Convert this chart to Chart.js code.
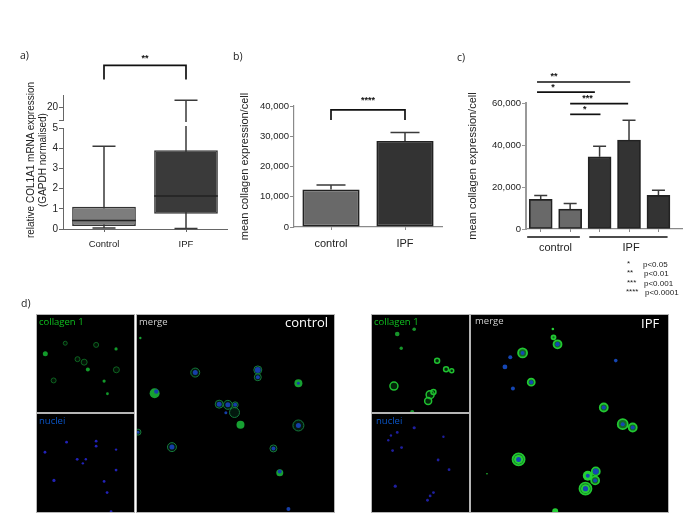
<!DOCTYPE html>
<html>
<head>
<meta charset="utf-8">
<script src="https://cdn.jsdelivr.net/npm/chart.js@4/dist/chart.umd.min.js"></script>
<style>
  body { margin: 0; background: #fff; width: 700px; height: 525px; overflow: hidden; position: relative; filter: blur(0.35px); }
  canvas { position: absolute; }
  .t { position: absolute; white-space: nowrap; transform: translateY(-50%); font-family: "Liberation Sans", sans-serif; color: #222; }
  .tag { font-family: "Open Sans", sans-serif; font-size: 10.5px; }
  .leg { font-size: 8px; }
  .photo { position: absolute; background: #000; outline: 1px solid #b5b5b5; overflow: hidden; }
  .photo canvas { filter: blur(0.5px); }
  .ylab { position: absolute; left: 36px; top: 160px; width: 0; height: 0; }
  .ylab div { position: absolute; transform: translate(-50%, -50%) rotate(-90deg); white-space: nowrap; text-align: center; font: 10px/11.5px "Liberation Sans", sans-serif; color: #222; }
</style>
</head>
<body>
<span class="t tag" style="left:20px;top:55px">a)</span>
<span class="t tag" style="left:233px;top:56px">b)</span>
<span class="t tag" style="left:457px;top:57px">c)</span>
<span class="t tag" style="left:21px;top:303px">d)</span>
<div class="ylab"><div>relative COL1A1 mRNA expression<br>(GAPDH normalised)</div></div>

<span class="t leg" style="left:627px;top:263px">*</span><span class="t leg" style="left:643px;top:264px">p&lt;0.05</span>
<span class="t leg" style="left:627px;top:272px">**</span><span class="t leg" style="left:644px;top:273px">p&lt;0.01</span>
<span class="t leg" style="left:627px;top:282px">***</span><span class="t leg" style="left:644px;top:283px">p&lt;0.001</span>
<span class="t leg" style="left:626px;top:291px">****</span><span class="t leg" style="left:645px;top:292px">p&lt;0.0001</span>

<script>
// panel a, box plot
const boxLabels = ["Control", "IPF"];
const boxLow = [0.05, 0.03];
const boxQ1 = [0.15, 0.75];
const boxMedian = [0.42, 1.63];
const boxQ3 = [1.1, 3.9];
const boxHigh = [4.1, 23.5];
const upperTicks = [14, 20];

// panel b
const barLabels = ["control", "IPF"];
const barMeans = [12400, 28400];
const barTops = [13900, 31200];

// panel c
const groupPositions = [0, 1, 2, 3, 4];
const groupMeans = [14100, 9500, 34400, 42400, 16000];
const groupTops = [16000, 12200, 39400, 51800, 18400];

const ctrlCollagenRings = [[122, 133, 2.5], [142, 142, 3], [239, 165, 3], [50, 197, 2.5], [85, 85, 2], [178, 90, 2.5]];
const ctrlCollagenBlobs = [[25, 117, 2.5], [153, 164, 2], [238, 102, 1.6], [202, 199, 1.6], [212, 237, 1.4]];
const ctrlNuclei = [[24, 114, 1.4], [89, 84, 1.4], [178, 81, 1.4], [178, 96, 1.4], [238, 106, 1.2], [121, 135, 1.4], [138, 147, 1.2], [147, 135, 1.2], [238, 167, 1.4], [51, 198, 1.6], [202, 201, 1.4], [211, 234, 1.4], [223, 291, 1.4]];
const ctrlMergeRings = [[175, 173, 4.5], [363, 165, 4], [363, 187, 3.5], [247, 268, 4], [273, 270, 4.5], [295, 270, 3], [293, 293, 5], [485, 332, 5.5], [3, 352, 3], [105, 397, 4.5], [410, 401, 3.5]];
const ctrlMergeBlobs = [[485, 205, 4], [53, 235, 5], [311, 330, 4], [429, 474, 3.5], [10, 69, 1.2]];
const ctrlMergeNuclei = [[175, 173, 2.5], [363, 165, 3], [363, 187, 2], [485, 205, 1.5], [58, 230, 2.2], [247, 268, 2.5], [273, 270, 2.5], [295, 270, 2], [267, 294, 1.5], [485, 332, 2.5], [3, 352, 1.5], [105, 397, 2.5], [410, 401, 2], [429, 470, 2], [455, 583, 2]];

const ipfCollagenRings = [[196, 138, 2.5], [223, 163, 2.5], [240, 168, 2], [66, 214, 4], [175, 240, 4], [185, 232, 2.5], [169, 259, 3.5]];
const ipfCollagenBlobs = [[76, 57, 2.3], [127, 43, 1.8], [88, 100, 1.7], [121, 292, 2]];
const ipfNuclei = [[76, 55, 1.4], [57, 64, 1.2], [49, 78, 1.2], [62, 109, 1.4], [89, 100, 1.4], [127, 41, 1.6], [215, 68, 1.2], [199, 137, 1.4], [232, 166, 1.4], [70, 215, 1.6], [185, 234, 1.4], [175, 244, 1.4], [167, 257, 1.4]];
const ipfMergeRings = [[260, 88, 4], [155, 114, 4.5], [181, 202, 3.5], [399, 278, 4], [456, 328, 5], [486, 338, 4], [143, 434, 6], [375, 470, 4], [373, 497, 4], [344, 522, 6], [248, 67, 2]];
const ipfMergeBlobs = [[351, 483, 5], [143, 434, 4.5], [344, 522, 4.5], [253, 590, 3], [246, 42, 1.3], [48, 477, 0.8]];
const ipfMergeNuclei = [[260, 88, 2.2], [155, 114, 2], [118, 127, 2], [102, 156, 2.4], [181, 202, 2], [126, 221, 2], [435, 137, 1.8], [399, 278, 2], [456, 328, 2], [486, 338, 2], [143, 434, 2.5], [351, 483, 2], [375, 470, 3], [373, 497, 2], [344, 522, 2.6]];

Chart.defaults.font.family = '"Liberation Sans", sans-serif';
Chart.defaults.color = "#222";
Chart.defaults.animation = false;
Chart.defaults.responsive = false;
Chart.defaults.plugins.legend.display = false;
Chart.defaults.plugins.tooltip.enabled = false;

function addCanvas(left, top, width, height, parent) {
  const canvas = document.createElement("canvas");
  canvas.width = width;
  canvas.height = height;
  canvas.style.left = left + "px";
  canvas.style.top = top + "px";
  (parent || document.body).appendChild(canvas);
  return canvas;
}

// whiskers go under the bars, medians over them
function statsPlugin(stats, capWidth, medians) {
  return {
    id: "stats",
    beforeDatasetsDraw(chart) {
      const { ctx, chartArea, scales } = chart;
      ctx.save();
      ctx.beginPath();
      ctx.rect(chartArea.left, chartArea.top - 2, chartArea.width, chartArea.height + 4);
      ctx.clip();
      ctx.strokeStyle = "#3a3a3a";
      ctx.lineWidth = 1.5;
      const bars = chart.getDatasetMeta(0).data;
      stats.forEach((s, i) => {
        const px = bars[i].x;
        const yHigh = scales.y.getPixelForValue(s.high);
        const yLow = scales.y.getPixelForValue(s.low);
        ctx.beginPath();
        ctx.moveTo(px, yLow);
        ctx.lineTo(px, yHigh);
        ctx.moveTo(px - capWidth / 2, yHigh);
        ctx.lineTo(px + capWidth / 2, yHigh);
        if (s.lowCap) {
          ctx.moveTo(px - capWidth / 2, yLow);
          ctx.lineTo(px + capWidth / 2, yLow);
        }
        ctx.stroke();
      });
      ctx.restore();
    },
    afterDatasetsDraw(chart) {
      if (!medians) return;
      const { ctx, chartArea, scales } = chart;
      ctx.save();
      ctx.beginPath();
      ctx.rect(chartArea.left, chartArea.top, chartArea.width, chartArea.height);
      ctx.clip();
      ctx.strokeStyle = "#222";
      ctx.lineWidth = 1.5;
      chart.getDatasetMeta(0).data.forEach((bar, i) => {
        const y = scales.y.getPixelForValue(medians[i]);
        ctx.beginPath();
        ctx.moveTo(bar.x - bar.width / 2, y);
        ctx.lineTo(bar.x + bar.width / 2, y);
        ctx.stroke();
      });
      ctx.restore();
    },
  };
}

// brackets, significance lines and their stars, given in axis values
function notesPlugin(lines, labels) {
  return {
    id: "notes",
    afterDraw(chart) {
      const { ctx, scales } = chart;
      ctx.save();
      ctx.strokeStyle = "#111";
      ctx.lineWidth = 1.7;
      lines.forEach((line) => {
        ctx.beginPath();
        line.forEach(([x, y], i) => {
          const px = scales.x.getPixelForValue(x);
          const py = scales.y.getPixelForValue(y);
          if (i === 0) ctx.moveTo(px, py);
          else ctx.lineTo(px, py);
        });
        ctx.stroke();
      });
      ctx.textAlign = "center";
      ctx.textBaseline = "middle";
      labels.forEach(({ text, x, y, font }) => {
        ctx.font = font || 'bold 9px "Liberation Sans"';
        ctx.fillStyle = font ? "#222" : "#111";
        ctx.fillText(text, scales.x.getPixelForValue(x), scales.y.getPixelForValue(y));
      });
      ctx.restore();
    },
  };
}

function yAxis(width, axisColor, axisWidth, extra) {
  return Object.assign({
    afterFit(scale) { scale.width = width; },
    border: { color: axisColor, width: axisWidth },
    grid: { display: true, drawOnChartArea: false, color: axisColor, tickLength: 4 },
    ticks: { font: { size: 9.5 }, padding: 1, color: "#222" },
  }, extra);
}

function xAxis(height, axisColor, axisWidth, extra) {
  return Object.assign({
    offset: true,
    afterFit(scale) { scale.height = height; },
    border: { color: axisColor, width: axisWidth },
    grid: { display: true, offset: false, drawOnChartArea: false, color: axisColor, tickLength: 3 },
    ticks: { font: { size: 11 }, padding: 7, color: "#222" },
  }, extra);
}

function boxDataset() {
  return {
    data: boxQ1.map((q, i) => [q, boxQ3[i]]),
    backgroundColor: ["#7d7d7d", "#3a3a3a"],
    borderColor: "#333",
    borderWidth: 1.5,
    borderSkipped: false,
    barPercentage: 0.777,
    categoryPercentage: 1,
  };
}

const boxStats = boxLow.map((low, i) => ({ low, high: boxHigh[i], lowCap: true }));

// panel a, the part of the axis above the break
new Chart(addCanvas(10, 50, 225, 78), {
  type: "bar",
  data: { labels: boxLabels, datasets: [boxDataset()] },
  options: {
    layout: { padding: { top: 45, right: 8, bottom: 8 } },
    scales: {
      x: { display: false, offset: true },
      y: yAxis(53, "#666", 1, {
        min: 14,
        max: 26,
        afterBuildTicks(scale) { scale.ticks = upperTicks.map((value) => ({ value })); },
        ticks: { font: { size: 10 }, padding: 1, color: "#222", callback: (v) => (v === 20 ? "20" : "") },
      }),
    },
  },
  plugins: [
    statsPlugin(boxStats, 23),
    notesPlugin(
      [[[0, 33.4], [0, 40.2], [1, 40.2], [1, 33.4]]],
      [{ text: "**", x: 0.5, y: 43.7 }]
    ),
  ],
});

// panel a, below the break
new Chart(addCanvas(10, 118, 225, 140), {
  type: "bar",
  data: { labels: boxLabels, datasets: [boxDataset()] },
  options: {
    layout: { padding: { top: 10, right: 8 } },
    scales: {
      x: xAxis(29, "#666", 1, { ticks: { font: { size: 9.5 }, padding: 7, color: "#222" } }),
      y: yAxis(53, "#666", 1, {
        min: 0,
        max: 5,
        ticks: { font: { size: 10 }, padding: 1, color: "#222", stepSize: 1 },
      }),
    },
  },
  plugins: [statsPlugin(boxStats, 23, boxMedian)],
});

// panel b
new Chart(addCanvas(228, 90, 220, 175), {
  type: "bar",
  data: {
    labels: barLabels,
    datasets: [{
      data: barMeans,
      backgroundColor: ["#696969", "#333333"],
      borderColor: "#222",
      borderWidth: 1.7,
      borderSkipped: false,
      barPercentage: 0.773,
      categoryPercentage: 1,
    }],
  },
  options: {
    layout: { padding: { top: 16, right: 6 } },
    scales: {
      x: xAxis(38, "#8a8a8a", 1.2),
      y: yAxis(66, "#8a8a8a", 1.2, {
        min: 0,
        max: 40000,
        title: { display: true, text: "mean collagen expression/cell", font: { size: 11 }, color: "#222", padding: { top: 10 } },
        ticks: { font: { size: 9.5 }, padding: 1, color: "#222", stepSize: 10000, callback: (v) => v.toLocaleString("en-US") },
      }),
    },
  },
  plugins: [
    statsPlugin(barMeans.map((low, i) => ({ low, high: barTops[i] })), 29),
    notesPlugin(
      [[[0, 35400], [0, 38700], [1, 38700], [1, 35400]]],
      [{ text: "****", x: 0.5, y: 41800 }]
    ),
  ],
});

// panel c
new Chart(addCanvas(452, 65, 238, 235), {
  type: "bar",
  data: {
    datasets: [{
      data: groupPositions.map((x, i) => ({ x, y: groupMeans[i] })),
      backgroundColor: ["#696969", "#696969", "#333333", "#333333", "#333333"],
      borderColor: "#222",
      borderWidth: 1.7,
      borderSkipped: false,
      barThickness: 23,
    }],
  },
  options: {
    layout: { padding: { top: 38, right: 8 } },
    scales: {
      x: xAxis(71, "#8a8a8a", 1.2, {
        type: "linear",
        offset: false,
        min: -0.5,
        max: 4.8,
        afterBuildTicks(scale) { scale.ticks = groupPositions.map((value) => ({ value })); },
        ticks: { display: false },
      }),
      y: yAxis(74, "#999", 2, {
        min: 0,
        max: 60000,
        title: { display: true, text: "mean collagen expression/cell", font: { size: 11 }, color: "#222", padding: { top: 14 } },
        ticks: { font: { size: 9.5 }, padding: 1, color: "#222", stepSize: 20000, callback: (v) => v.toLocaleString("en-US") },
      }),
    },
  },
  plugins: [
    statsPlugin(groupMeans.map((low, i) => ({ low, high: groupTops[i] })), 13),
    notesPlugin(
      [
        [[-0.125, 70000], [3.04, 70000]],
        [[-0.125, 65200], [1.84, 65200]],
        [[1, 59700], [2.97, 59700]],
        [[1, 54600], [2.03, 54600]],
        [[-0.46, -3800], [1.33, -3800]],
        [[1.65, -3800], [4.31, -3800]],
      ],
      [
        { text: "**", x: 0.45, y: 72800 },
        { text: "*", x: 0.42, y: 67600 },
        { text: "***", x: 1.59, y: 62200 },
        { text: "*", x: 1.5, y: 57100 },
        { text: "control", x: 0.5, y: -9000, font: '11px "Liberation Sans"' },
        { text: "IPF", x: 3.07, y: -9000, font: '11px "Liberation Sans"' },
      ]
    ),
  ],
});

// panel d, micrographs drawn as bubbles on black
function toBubbles(list) {
  return list.map(([x, y, r]) => ({ x, y, r }));
}

function photo(left, top, width, height, span, marks, look, captions) {
  const box = document.createElement("div");
  box.className = "photo";
  box.style.cssText = `left:${left}px;top:${top}px;width:${width}px;height:${height}px`;
  document.body.appendChild(box);
  new Chart(addCanvas(0, 0, width, height, box), {
    type: "bubble",
    data: {
      datasets: [
        { data: toBubbles(marks.nuclei), backgroundColor: look.blue, borderWidth: 0, order: 1 },
        { data: toBubbles(marks.blobs), backgroundColor: look.blob, borderWidth: 0, order: 2 },
        { data: toBubbles(marks.rings), backgroundColor: look.fill, borderColor: look.ring, borderWidth: look.ringWidth, order: 3 },
      ],
    },
    options: {
      layout: { autoPadding: false },
      scales: {
        x: { display: false, min: 0, max: span },
        y: { display: false, min: 0, max: span, reverse: true },
      },
    },
  });
  captions.forEach(([text, color, x, y, size]) => {
    const label = document.createElement("span");
    label.className = "t";
    label.textContent = text;
    label.style.cssText = `left:${x}px;top:${y}px;color:${color};font-size:${size}px;font-family:"Open Sans",sans-serif`;
    box.appendChild(label);
  });
}

const ctrlSmall = { blue: "#2222b8", blob: "#129a2a", ring: "#0f6c24", fill: "rgba(10,70,25,0.25)", ringWidth: 0.9 };
const ctrlLarge = { blue: "#163ea8", blob: "#17a032", ring: "#14793a", fill: "rgba(8,70,40,0.35)", ringWidth: 1 };
const ipfSmall = { blue: "#1f1fa0", blob: "#17952a", ring: "#1fc030", fill: "rgba(10,110,25,0.35)", ringWidth: 1.5 };
const ipfLarge = { blue: "#1546b4", blob: "#25cf35", ring: "#22c832", fill: "rgba(25,150,50,0.7)", ringWidth: 1.8 };

photo(37, 315, 97, 97, 292, { rings: ctrlCollagenRings, blobs: ctrlCollagenBlobs, nuclei: [] }, ctrlSmall, [["collagen 1", "#0fc01f", 2, 6, 9.5]]);
photo(37, 414, 97, 98, 292, { rings: [], blobs: [], nuclei: ctrlNuclei }, ctrlSmall, [["nuclei", "#0a55c8", 2, 6, 9.5]]);
photo(137, 315, 197, 197, 592, { rings: ctrlMergeRings, blobs: ctrlMergeBlobs, nuclei: ctrlMergeNuclei }, ctrlLarge, [["merge", "#cfcfcf", 2, 6, 9.5], ["control", "#fff", 148, 7, 13]]);

photo(372, 315, 97, 97, 292, { rings: ipfCollagenRings, blobs: ipfCollagenBlobs, nuclei: [] }, ipfSmall, [["collagen 1", "#0fc01f", 2, 6, 9.5]]);
photo(372, 414, 97, 98, 292, { rings: [], blobs: [], nuclei: ipfNuclei }, ipfSmall, [["nuclei", "#0a55c8", 4, 6, 9.5]]);
photo(471, 315, 197, 197, 592, { rings: ipfMergeRings, blobs: ipfMergeBlobs, nuclei: ipfMergeNuclei }, ipfLarge, [["merge", "#cfcfcf", 4, 5, 9.5], ["IPF", "#fff", 170, 8, 13]]);
</script>
</body>
</html>
